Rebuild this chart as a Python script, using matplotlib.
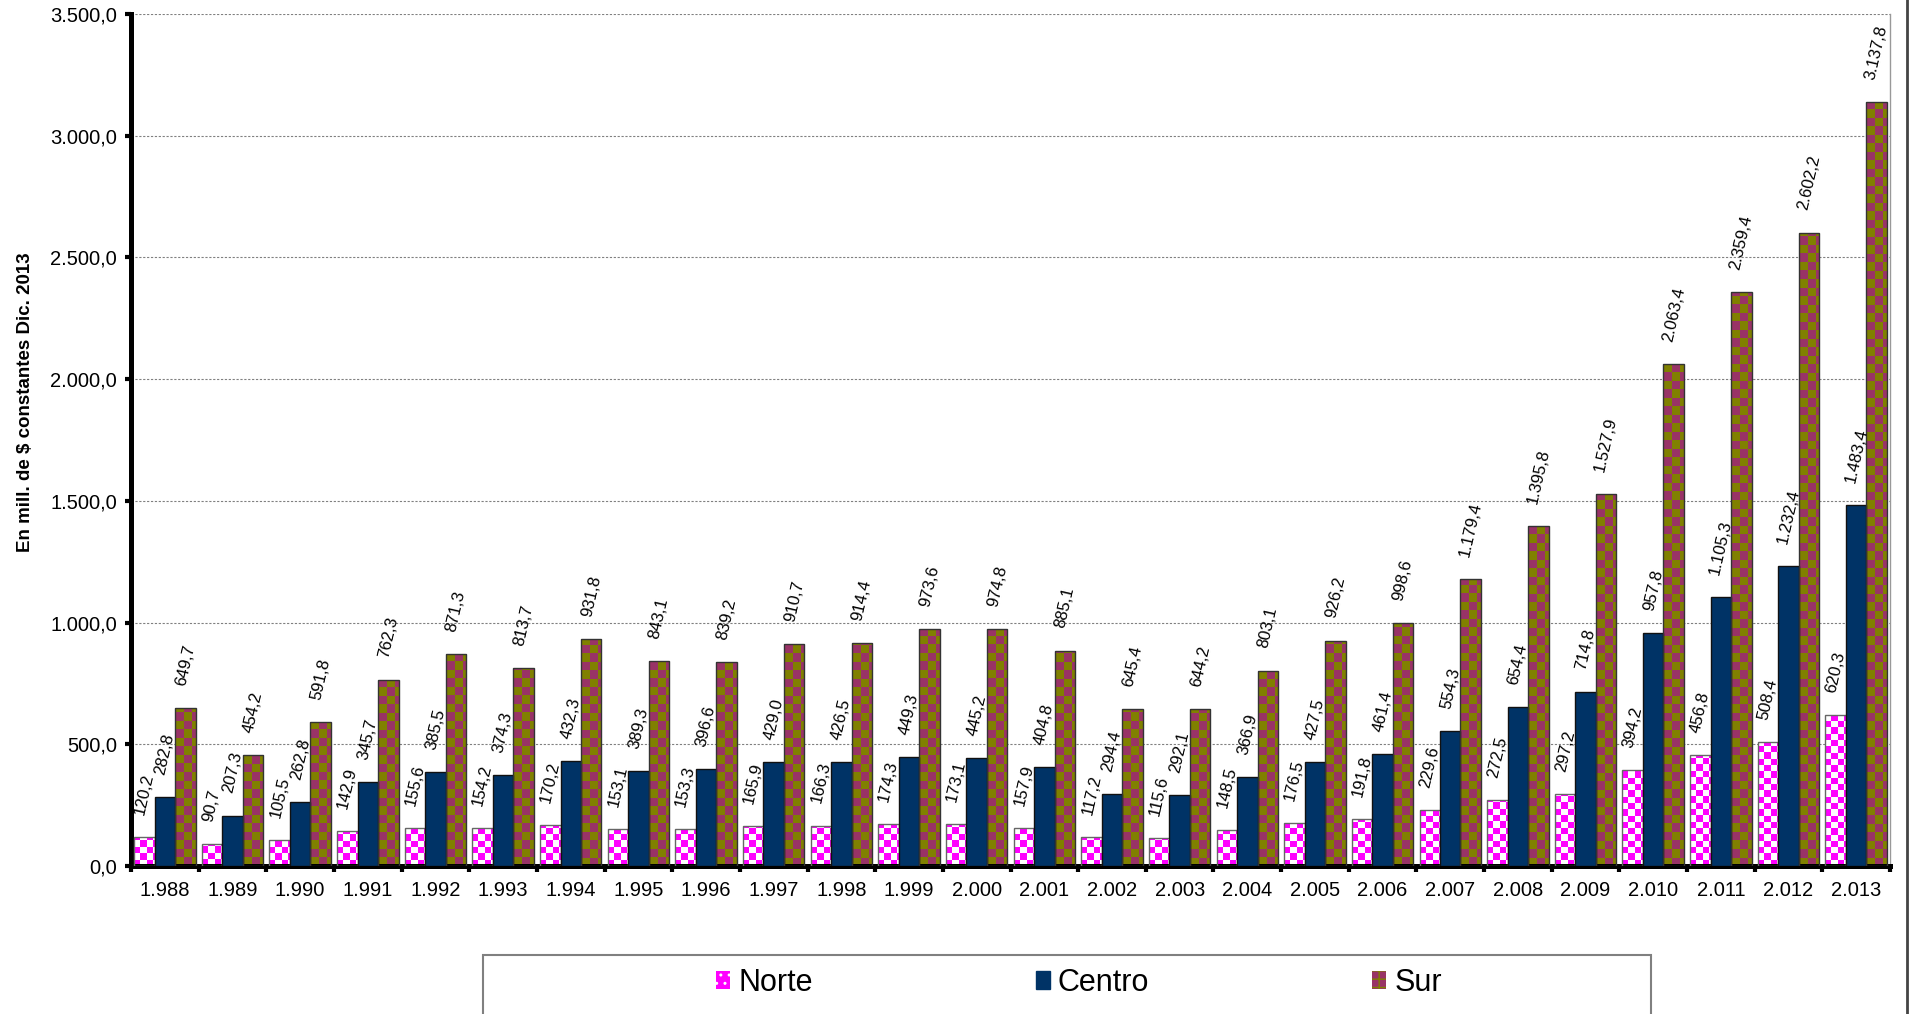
import numpy as np
import matplotlib
matplotlib.use("Agg")
import matplotlib.pyplot as plt
from matplotlib.colors import ListedColormap
from matplotlib.patches import Patch, Rectangle
from matplotlib.lines import Line2D

plt.rcParams["font.family"] = ["Liberation Sans", "DejaVu Sans"]

# datos (en mill. de $ constantes Dic. 2013)
years = list(range(1988, 2014))
norte = [120.2, 90.7, 105.5, 142.9, 155.6, 154.2, 170.2, 153.1, 153.3, 165.9, 166.3, 174.3, 173.1,
         157.9, 117.2, 115.6, 148.5, 176.5, 191.8, 229.6, 272.5, 297.2, 394.2, 456.8, 508.4, 620.3]
centro = [282.8, 207.3, 262.8, 345.7, 385.5, 374.3, 432.3, 389.3, 396.6, 429.0, 426.5, 449.3, 445.2,
          404.8, 294.4, 292.1, 366.9, 427.5, 461.4, 554.3, 654.4, 714.8, 957.8, 1105.3, 1232.4, 1483.4]
sur = [649.7, 454.2, 591.8, 762.3, 871.3, 813.7, 931.8, 843.1, 839.2, 910.7, 914.4, 973.6, 974.8,
       885.1, 645.4, 644.2, 803.1, 926.2, 998.6, 1179.4, 1395.8, 1527.9, 2063.4, 2359.4, 2602.2, 3137.8]
series_names = ["Norte", "Centro", "Sur"]


def fmt(v, dec=1):
    # formato con punto de miles y coma decimal
    s = f"{v:,.{dec}f}"
    return s.replace(",", "X").replace(".", ",").replace("X", ".")


W, H, DPI = 1910, 1014, 100
fig = plt.figure(figsize=(W / DPI, H / DPI), dpi=DPI)
L, R, T, B = 131, 1890, 14, 866
ax = fig.add_axes([L / W, 1 - B / H, (R - L) / W, (B - T) / H])

n = len(years)
x = np.arange(n)
bw = 0.303
ymax = 3500
ax.set_xlim(-0.5, n - 0.5)
ax.set_ylim(0, ymax)

# unidades de datos por pixel
ux = n / (R - L)
uy = ymax / (B - T)


def texture(bars, c1, c2, cell):
    # relleno tipo tablero de ajedrez recortado a cada barra
    cw, ch = cell * ux, cell * uy
    cmap = ListedColormap([c1, c2])
    for b in bars:
        x0, w, h = b.get_x(), b.get_width(), b.get_height()
        nx, ny = int(np.ceil(w / cw)), max(1, int(np.ceil(h / ch)))
        arr = np.add.outer(np.arange(ny), np.arange(nx)) % 2
        im = ax.imshow(arr, cmap=cmap, extent=(x0, x0 + nx * cw, 0, ny * ch), origin="lower",
                       aspect="auto", interpolation="nearest", zorder=2, vmin=0, vmax=1)
        im.set_clip_path(b)


b_n = ax.bar(x - bw, norte, bw, facecolor="none", edgecolor="#666666", linewidth=1, zorder=3)
b_c = ax.bar(x, centro, bw, color="#003366", edgecolor="#111111", linewidth=1, zorder=3)
b_s = ax.bar(x + bw, sur, bw, facecolor="none", edgecolor="#333333", linewidth=1, zorder=3)
texture(b_n, "#FF00FF", "#FFFFFF", 6.3)
texture(b_s, "#808000", "#993366", 8.5)
ax.set_xlim(-0.5, n - 0.5)
ax.set_ylim(0, ymax)

# etiquetas de datos
for bars, vals in [(b_n, norte), (b_c, centro), (b_s, sur)]:
    for b, v in zip(bars, vals):
        ax.annotate(fmt(v), (b.get_x() + b.get_width() / 2, v), xytext=(0, 15),
                    textcoords="offset points", ha="center", va="bottom", rotation=77,
                    fontsize=12, zorder=4)

# ejes
ax.set_yticks(np.arange(0, 3501, 500))
ax.set_yticklabels([fmt(v) for v in np.arange(0, 3501, 500)], fontsize=14.5)
ax.set_xticks(x)
ax.set_xticklabels([fmt(y, 0) for y in years], fontsize=14.5)
ax.set_xticks(np.arange(-0.5, n, 1), minor=True)
ax.tick_params(axis="x", which="major", length=0, pad=11)
ax.tick_params(axis="x", which="minor", length=4, width=3, direction="out")
ax.tick_params(axis="y", length=4, width=3, pad=6)
ax.grid(axis="y", color="#808080", linestyle=(0, (2, 1.5)), linewidth=0.8)
ax.set_axisbelow(True)
for side in ["left", "bottom"]:
    ax.spines[side].set_linewidth(3.6)
ax.spines["top"].set_visible(False)
ax.spines["right"].set_color("#999999")
ax.spines["right"].set_linewidth(1)

fig.text(26 / W, 1 - 402 / H, "En mill. de $ constantes Dic. 2013", rotation=90,
         ha="center", va="center", fontsize=13.5, fontweight="bold")

# leyenda
fig.add_artist(Rectangle((483 / W, -0.05), (1651 - 483) / W, 0.05 + 1 - 955 / H,
                         transform=fig.transFigure, facecolor="white", edgecolor="#808080",
                         linewidth=1.5))
handles = [Patch(facecolor="#FF00FF", edgecolor="white", hatch="..", linewidth=0),
           Patch(facecolor="#003366", edgecolor="#003366"),
           Patch(facecolor="#993366", edgecolor="#808000", hatch="++", linewidth=0)]
fig.legend(handles, series_names, loc="center", bbox_to_anchor=((710 + 1448) / 2 / W, 1 - 983 / H),
           ncol=3, frameon=False, fontsize=22, handlelength=0.46, handleheight=0.55,
           handletextpad=0.26, columnspacing=7.3, borderpad=0)

fig.add_artist(Line2D([1907 / W, 1907 / W], [0, 1], transform=fig.transFigure,
                      color="#444444", linewidth=2))

fig.savefig("out.png", dpi=DPI)
